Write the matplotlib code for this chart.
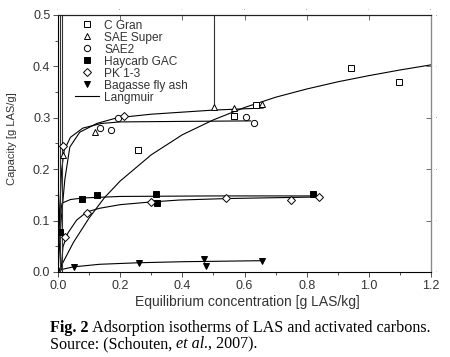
import matplotlib
matplotlib.use("Agg")
import matplotlib.pyplot as plt
from matplotlib.lines import Line2D
from matplotlib.ticker import MultipleLocator, FormatStrFormatter

cgran_x = [0.256, 0.566, 0.637, 0.944, 1.098]
cgran_y = [0.237, 0.303, 0.325, 0.397, 0.370]
saesup_x = [0.016, 0.118, 0.502, 0.566, 0.656]
saesup_y = [0.228, 0.272, 0.321, 0.319, 0.327]
sae2_x = [0.134, 0.170, 0.192, 0.604, 0.630]
sae2_y = [0.280, 0.276, 0.300, 0.302, 0.290]
haycarb_x = [0.006, 0.078, 0.124, 0.316, 0.318, 0.820]
haycarb_y = [0.078, 0.142, 0.150, 0.152, 0.134, 0.152]
pk_x = [0.016, 0.211, 0.022, 0.093, 0.300, 0.540, 0.750, 0.840]
pk_y = [0.245, 0.303, 0.068, 0.115, 0.137, 0.144, 0.140, 0.146]
bagasse_x = [0.050, 0.260, 0.470, 0.475, 0.657]
bagasse_y = [0.010, 0.018, 0.025, 0.012, 0.022]

# Langmuir fit curves
cgran_fit_x = [0.0, 0.05, 0.1, 0.15, 0.2, 0.3, 0.4, 0.5, 0.6, 0.7, 0.8, 0.9, 1.0, 1.1, 1.2]
cgran_fit_y = [0.0, 0.058, 0.105, 0.145, 0.177, 0.228, 0.267, 0.296, 0.320, 0.340, 0.356, 0.370, 0.382, 0.393, 0.403]
saesup_fit_x = [0.0, 0.01, 0.022, 0.038, 0.07, 0.125, 0.19, 0.3, 0.4, 0.5, 0.66]
saesup_fit_y = [0.0, 0.10, 0.180, 0.243, 0.272, 0.289, 0.300, 0.307, 0.311, 0.315, 0.319]
sae2_fit_x = [0.0, 0.005, 0.012, 0.02, 0.04, 0.08, 0.14, 0.2, 0.4, 0.62]
sae2_fit_y = [0.0, 0.12, 0.200, 0.237, 0.262, 0.280, 0.289, 0.292, 0.293, 0.294]
haycarb_fit_x = [0.0, 0.004, 0.013, 0.04, 0.08, 0.2, 0.5, 0.83]
haycarb_fit_y = [0.0, 0.100, 0.134, 0.141, 0.144, 0.147, 0.148, 0.148]
pk_fit_x = [0.0, 0.01, 0.016, 0.032, 0.06, 0.093, 0.134, 0.2, 0.294, 0.39, 0.55, 0.84]
pk_fit_y = [0.0, 0.004, 0.049, 0.076, 0.101, 0.117, 0.124, 0.131, 0.136, 0.140, 0.143, 0.146]
bagasse_fit_x = [0.0, 0.005, 0.05, 0.134, 0.26, 0.4, 0.656]
bagasse_fit_y = [0.0, 0.004, 0.010, 0.015, 0.018, 0.020, 0.022]

# stray vertical lines seen in the plot
stray_x = [0.006, 0.014, 0.502]
stray_y0 = [0.0, 0.0, 0.321]

plt.rcParams['font.family'] = ['Liberation Sans', 'DejaVu Sans']

fig = plt.figure(figsize=(4.5, 3.57), dpi=100)
ax = fig.add_axes([58/450, 85/357, 373/450, 257/357])

lw = 0.8
for fx, fy in [(cgran_fit_x, cgran_fit_y), (saesup_fit_x, saesup_fit_y),
               (sae2_fit_x, sae2_fit_y), (haycarb_fit_x, haycarb_fit_y),
               (pk_fit_x, pk_fit_y), (bagasse_fit_x, bagasse_fit_y)]:
    ax.plot(fx, fy, color='black', lw=lw)
ax.vlines(stray_x, stray_y0, 0.5, color='#333333', lw=0.8)

ms = 4.5
mk = dict(linestyle='none', markersize=ms, markeredgewidth=0.7, color='black')
ax.plot(cgran_x, cgran_y, marker='s', markerfacecolor='white', **mk)
ax.plot(saesup_x, saesup_y, marker='^', markerfacecolor='white', **mk)
ax.plot(sae2_x, sae2_y, marker='o', markerfacecolor='white', **mk)
ax.plot(haycarb_x, haycarb_y, marker='s', markerfacecolor='black', **mk)
ax.plot(pk_x, pk_y, marker='D', markerfacecolor='white', **dict(mk, markersize=4.2))
ax.plot(bagasse_x, bagasse_y, marker='v', markerfacecolor='black', **mk)

ax.set_xlim(0, 1.2)
ax.set_ylim(0, 0.5)
ax.xaxis.set_major_locator(MultipleLocator(0.2))
ax.xaxis.set_minor_locator(MultipleLocator(0.1))
ax.yaxis.set_major_locator(MultipleLocator(0.1))
ax.yaxis.set_minor_locator(MultipleLocator(0.05))
ax.xaxis.set_major_formatter(FormatStrFormatter('%.1f'))
ax.yaxis.set_major_formatter(FormatStrFormatter('%.1f'))
ax.tick_params(which='both', direction='out', labelsize=9, colors='#333333', width=0.6)
ax.tick_params(which='major', length=3.5, pad=2)
ax.tick_params(which='minor', length=2.5)

# inward ticks on top and right, no labels
for sec in (ax.secondary_xaxis('top'), ax.secondary_yaxis('right')):
    sec.tick_params(which='both', direction='in', labelsize=0, width=0.6, colors='#555555')
    sec.tick_params(which='major', length=3.5)
    sec.tick_params(which='minor', length=2.5)
for s in ax.spines.values():
    s.set_linewidth(0.8)
ax.spines['right'].set_color('#888888')
ax.spines['top'].set_color('#222222')

ax.set_xlabel('Equilibrium concentration [g LAS/kg]', fontsize=10, color='#333333')
ax.xaxis.set_label_coords(0.507, -0.09)
ax.set_ylabel('Capacity [g LAS/g]', fontsize=8, color='#333333')
ax.yaxis.set_label_coords(-0.11, 0.52)

handles = [
    Line2D([], [], marker='s', markerfacecolor='white', **mk),
    Line2D([], [], marker='^', markerfacecolor='white', **mk),
    Line2D([], [], marker='o', markerfacecolor='white', **mk),
    Line2D([], [], marker='s', markerfacecolor='black', **mk),
    Line2D([], [], marker='D', markerfacecolor='white', **dict(mk, markersize=4.2)),
    Line2D([], [], marker='v', markerfacecolor='black', **mk),
    Line2D([], [], color='black', lw=lw),
]
labels = ['C Gran', 'SAE Super', 'SAE2', 'Haycarb GAC', 'PK 1-3', 'Bagasse fly ash', 'Langmuir']
leg = ax.legend(handles, labels, loc='upper left', bbox_to_anchor=(0.046, 0.982),
                frameon=False, fontsize=8.6, borderpad=0, borderaxespad=0,
                handlelength=2.0, handletextpad=0.45, labelspacing=0.0)
for t in leg.get_texts():
    t.set_color('#333333')

# caption
fig.canvas.draw()
r = fig.canvas.get_renderer()
serif = ['Liberation Serif', 'DejaVu Serif']
cs = 11.6
y1 = 1 - 328/357
y2 = 1 - 344/357
t = fig.text(50/450, y1, 'Fig. 2', fontsize=cs, fontweight='bold', family=serif, va='center')
bb = t.get_window_extent(r)
fig.text(bb.x1/450, y1, ' Adsorption isotherms of LAS and activated carbons.',
         fontsize=cs, family=serif, va='center')
t = fig.text(50/450, y2, 'Source: (Schouten, ', fontsize=cs, family=serif, va='center')
bb = t.get_window_extent(r)
t = fig.text(bb.x1/450, y2, 'et al.', fontsize=cs, family=serif, style='italic', va='center')
bb = t.get_window_extent(r)
fig.text(bb.x1/450, y2, ', 2007).', fontsize=cs, family=serif, va='center')

fig.savefig('out.png', dpi=100)
